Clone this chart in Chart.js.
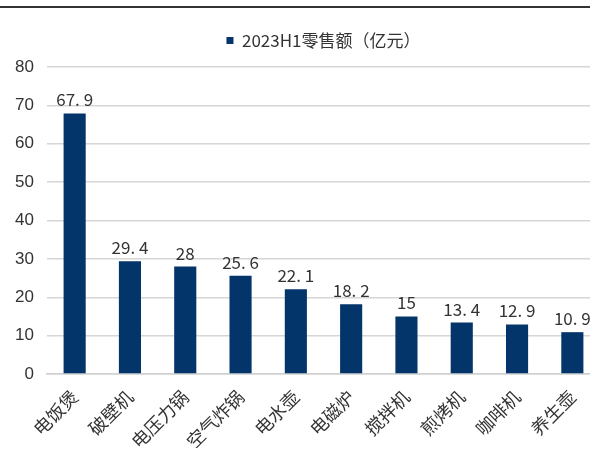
<!DOCTYPE html>
<html>
<head>
<meta charset="utf-8">
<script src="https://cdn.jsdelivr.net/npm/chart.js@4"></script>
<style>
  html, body { margin: 0; padding: 0; background: #fff; overflow: hidden; }
  .topline { position: absolute; left: 0; top: 6px; width: 590px; height: 0; border-top: 2px solid #333; }
  .wrap { position: absolute; left: 0; top: 0; width: 600px; height: 450px; }
</style>
</head>
<body>
<div class="topline"></div>
<div class="wrap"><canvas id="salesChart" width="600" height="450"></canvas></div>
<script>
const categories = ["电饭煲", "破壁机", "电压力锅", "空气炸锅", "电水壶", "电磁炉", "搅拌机", "煎烤机", "咖啡机", "养生壶"];
const retailSales = [67.9, 29.4, 28, 25.6, 22.1, 18.2, 15, 13.4, 12.9, 10.9];
const seriesName = "2023H1零售额（亿元）";
const yTicks = [0, 10, 20, 30, 40, 50, 60, 70, 80];

const cjkFont = '"Noto Sans CJK SC", "Noto Sans", sans-serif';

// value labels above each bar
const barLabels = {
    id: "barLabels",
    afterDatasetsDraw(chart) {
        const ctx = chart.ctx;
        const meta = chart.getDatasetMeta(0);
        ctx.save();
        ctx.font = "17px " + cjkFont;
        ctx.fillStyle = "#333";
        ctx.textAlign = "center";
        ctx.textBaseline = "bottom";
        meta.data.forEach((bar, i) => {
            ctx.fillText(String(retailSales[i]).replace(".", ". "), bar.x, bar.y - 5);
        });
        ctx.restore();
    }
};

// extra space between legend and plot area
const legendGap = {
    id: "legendGap",
    beforeInit(chart) {
        const fit = chart.legend.fit;
        chart.legend.fit = function () {
            fit.call(this);
            this.height += 8;
        };
    }
};

new Chart(document.getElementById("salesChart"), {
    type: "bar",
    data: {
        labels: categories,
        datasets: [{
            label: seriesName,
            data: retailSales,
            backgroundColor: "#03356a",
            barPercentage: 0.4,
            categoryPercentage: 1
        }]
    },
    options: {
        responsive: false,
        animation: false,
        layout: { padding: { top: 12, left: 14, right: 0, bottom: 2 } },
        plugins: {
            legend: {
                fullSize: false,
                labels: {
                    font: { size: 17, family: cjkFont },
                    color: "#333",
                    boxWidth: 7,
                    boxHeight: 7,
                    padding: 20
                }
            },
            tooltip: { enabled: false }
        },
        scales: {
            x: {
                grid: { display: false },
                border: { color: "#d0d0d0", width: 1.5 },
                ticks: {
                    font: { size: 18, family: cjkFont },
                    color: "#333",
                    minRotation: 45,
                    maxRotation: 45,
                    padding: 4
                },
                afterFit(scale) { scale.height = 74; }
            },
            y: {
                min: 0,
                max: 80,
                afterBuildTicks(scale) { scale.ticks = yTicks.map(v => ({ value: v })); },
                grid: { color: "#d6d6d6", lineWidth: 1.5, drawTicks: false },
                border: { display: false },
                ticks: {
                    font: { size: 17, family: '"Liberation Sans", Arial, sans-serif' },
                    color: "#333",
                    padding: 13
                },
                afterFit(scale) { scale.width = 33; }
            }
        }
    },
    plugins: [barLabels, legendGap]
});
</script>
</body>
</html>
